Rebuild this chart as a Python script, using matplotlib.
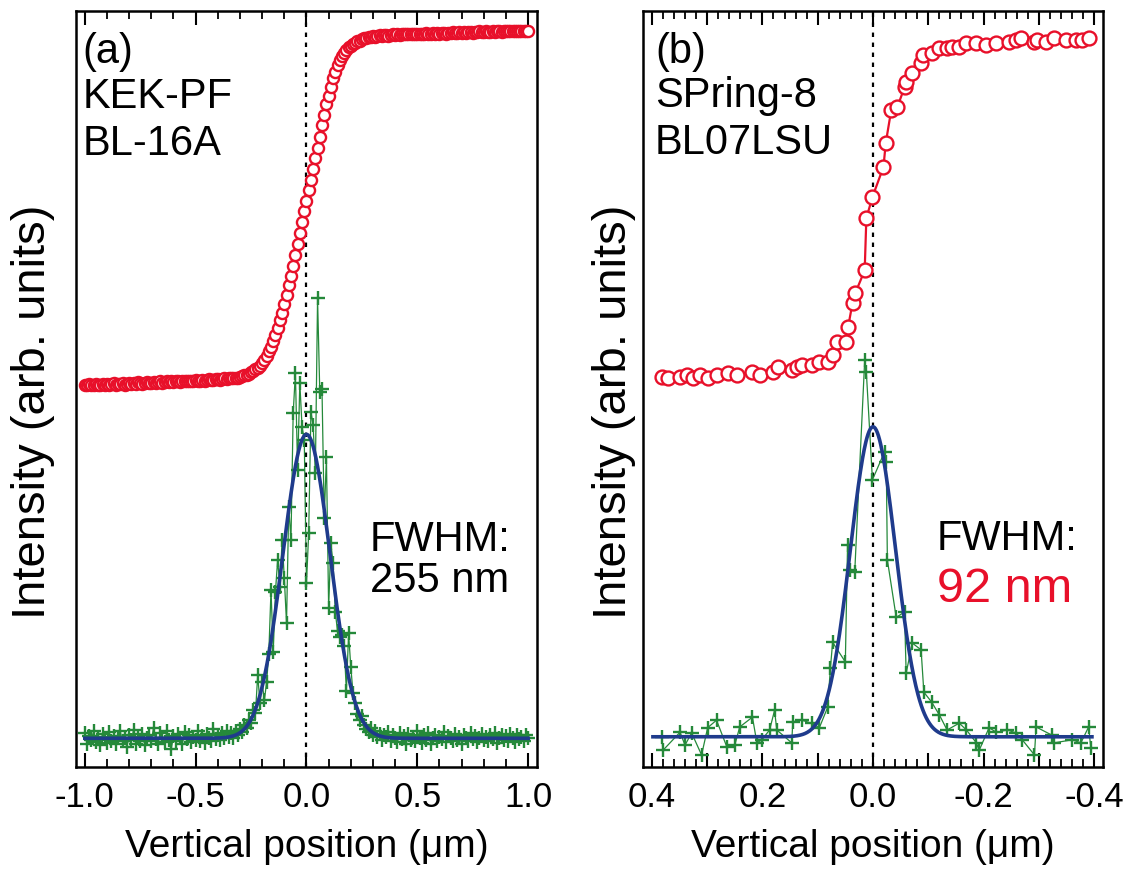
import numpy as np
import matplotlib.pyplot as plt
from matplotlib.ticker import MultipleLocator, FuncFormatter

plt.rcParams['font.family'] = ['Liberation Sans', 'DejaVu Sans']
plt.rcParams['axes.unicode_minus'] = False

RED = '#e8102a'
GREEN = '#25893a'
BLUE = '#1f3b8c'

# ---------- (a) KEK-PF BL-16A, sampled every 10 nm ----------
x_a = np.round(np.arange(-100, 101) / 100, 2)

edge_a = [
    # -1.00 .. -0.30
    0.506, 0.505, 0.507, 0.506, 0.506, 0.507, 0.505, 0.506, 0.507, 0.506,
    0.507, 0.506, 0.507, 0.508, 0.506, 0.507, 0.507, 0.508, 0.506, 0.507,
    0.508, 0.507, 0.508, 0.507, 0.509, 0.508, 0.507, 0.508, 0.509, 0.508,
    0.508, 0.509, 0.508, 0.509, 0.510, 0.508, 0.509, 0.510, 0.509, 0.510,
    0.509, 0.510, 0.511, 0.509, 0.510, 0.511, 0.510, 0.511, 0.510, 0.511,
    0.512, 0.511, 0.511, 0.512, 0.511, 0.512, 0.513, 0.512, 0.512, 0.513,
    0.513, 0.512, 0.513, 0.514, 0.513, 0.514, 0.514, 0.515, 0.514, 0.515,
    0.516,
    # -0.29 .. 0.29
    0.517, 0.518, 0.519, 0.520, 0.522, 0.524, 0.526, 0.528, 0.531, 0.535,
    0.539, 0.544, 0.550, 0.556, 0.564, 0.572, 0.581, 0.591, 0.601, 0.612,
    0.624, 0.637, 0.650, 0.663, 0.677, 0.692, 0.707, 0.721, 0.735, 0.749,
    0.763, 0.777, 0.791, 0.805, 0.819, 0.833, 0.849, 0.863, 0.877, 0.888,
    0.900, 0.911, 0.920, 0.928, 0.935, 0.940, 0.945, 0.949, 0.952, 0.954,
    0.956, 0.958, 0.960, 0.961, 0.963, 0.964, 0.965, 0.966, 0.966,
    # 0.30 .. 1.00
    0.967, 0.966, 0.967, 0.968, 0.967, 0.968, 0.968, 0.967, 0.968, 0.969,
    0.968, 0.969, 0.968, 0.969, 0.969, 0.970, 0.969, 0.969, 0.970, 0.969,
    0.970, 0.970, 0.969, 0.970, 0.971, 0.970, 0.970, 0.971, 0.970, 0.971,
    0.970, 0.971, 0.971, 0.970, 0.971, 0.971, 0.972, 0.971, 0.971, 0.972,
    0.971, 0.972, 0.971, 0.972, 0.972, 0.971, 0.972, 0.972, 0.973, 0.972,
    0.972, 0.973, 0.972, 0.972, 0.973, 0.972, 0.973, 0.973, 0.972, 0.973,
    0.973, 0.973, 0.974, 0.973, 0.973, 0.974, 0.973, 0.974, 0.974, 0.973,
    0.974,
]

profile_a = [
    # -1.00 .. -0.36
    0.045, 0.030, 0.041, 0.036, 0.048, 0.033, 0.040, 0.029, 0.044, 0.037,
    0.032, 0.046, 0.035, 0.041, 0.030, 0.039, 0.047, 0.034, 0.038, 0.026,
    0.043, 0.036, 0.049, 0.031, 0.040, 0.035, 0.044, 0.029, 0.038, 0.042,
    0.034, 0.052, 0.037, 0.031, 0.045, 0.039, 0.033, 0.047, 0.036, 0.024,
    0.041, 0.035, 0.044, 0.038, 0.030, 0.046, 0.037, 0.042, 0.033, 0.040,
    0.036, 0.048, 0.035, 0.041, 0.032, 0.044, 0.039, 0.034, 0.050, 0.037,
    0.042, 0.036, 0.045, 0.039, 0.047,
    # -0.35 .. 0.35
    0.040, 0.045, 0.038, 0.048, 0.042, 0.050, 0.046, 0.055, 0.052, 0.062,
    0.058, 0.075, 0.072, 0.122, 0.085, 0.112, 0.088, 0.112, 0.150, 0.234,
    0.152, 0.232, 0.274, 0.238, 0.300, 0.250, 0.190, 0.344, 0.300, 0.468,
    0.521, 0.393, 0.508, 0.450, 0.433, 0.243, 0.310, 0.470, 0.452, 0.389,
    0.620, 0.496, 0.500, 0.330, 0.410, 0.210, 0.296, 0.270, 0.205, 0.180,
    0.172, 0.175, 0.160, 0.100, 0.177, 0.132, 0.098, 0.085, 0.070, 0.062,
    0.068, 0.055, 0.050, 0.046, 0.052, 0.042, 0.047, 0.040, 0.044, 0.036,
    0.043,
    # 0.36 .. 1.00
    0.040, 0.046, 0.035, 0.043, 0.038, 0.033, 0.045, 0.037, 0.041, 0.030,
    0.044, 0.036, 0.040, 0.034, 0.047, 0.038, 0.032, 0.042, 0.036, 0.045,
    0.031, 0.039, 0.043, 0.035, 0.040, 0.037, 0.046, 0.033, 0.041, 0.038,
    0.034, 0.044, 0.036, 0.040, 0.031, 0.043, 0.038, 0.035, 0.045, 0.037,
    0.041, 0.033, 0.039, 0.044, 0.036, 0.040, 0.034, 0.042, 0.037, 0.045,
    0.032, 0.039, 0.043, 0.036, 0.041, 0.035, 0.044, 0.038, 0.033, 0.042,
    0.037, 0.040, 0.035, 0.043, 0.039,
]

# gaussian fit (a): centre, fwhm (um), peak height, baseline
fit_a = dict(x0=0.0, fwhm=0.25, peak=0.440, base=0.038)

# ---------- (b) SPring-8 BL07LSU ----------
edge_b_x = [0.382, 0.371, 0.349, 0.337, 0.326, 0.313, 0.299, 0.283, 0.263, 0.246,
            0.218, 0.205, 0.181, 0.172, 0.147, 0.138, 0.129, 0.111, 0.097, 0.082,
            0.073, 0.065, 0.048, 0.045, 0.037, 0.032, 0.015, 0.012, 0.001, -0.019,
            -0.023, -0.033, -0.044, -0.057, -0.060, -0.071, -0.087, -0.091, -0.106, -0.120,
            -0.133, -0.143, -0.156, -0.169, -0.187, -0.205, -0.223, -0.246, -0.259, -0.268,
            -0.292, -0.297, -0.313, -0.328, -0.349, -0.367, -0.378, -0.390]
edge_b_y = [0.516, 0.515, 0.516, 0.519, 0.515, 0.519, 0.515, 0.519, 0.521, 0.519,
            0.523, 0.519, 0.523, 0.529, 0.525, 0.529, 0.532, 0.532, 0.536, 0.536,
            0.545, 0.562, 0.562, 0.582, 0.614, 0.627, 0.657, 0.726, 0.754, 0.794,
            0.825, 0.869, 0.873, 0.899, 0.906, 0.918, 0.931, 0.942, 0.944, 0.951,
            0.951, 0.952, 0.952, 0.958, 0.958, 0.955, 0.958, 0.959, 0.962, 0.964,
            0.959, 0.962, 0.959, 0.964, 0.962, 0.962, 0.962, 0.964]

profile_b_x = [0.382, 0.380, 0.349, 0.340, 0.328, 0.310, 0.299, 0.283, 0.264, 0.250,
               0.241, 0.218, 0.210, 0.201, 0.187, 0.178, 0.174, 0.147, 0.145, 0.129,
               0.111, 0.097, 0.082, 0.077, 0.073, 0.050, 0.046, 0.042, 0.033, 0.015,
               0.012, 0.001, -0.021, -0.024, -0.026, -0.042, -0.057, -0.060, -0.071, -0.087,
               -0.092, -0.106, -0.120, -0.134, -0.156, -0.169, -0.187, -0.192, -0.210, -0.223,
               -0.243, -0.259, -0.270, -0.292, -0.295, -0.324, -0.328, -0.360, -0.376, -0.390,
               -0.394]
profile_b_y = [0.040, 0.022, 0.046, 0.029, 0.045, 0.016, 0.052, 0.062, 0.026, 0.029,
               0.053, 0.066, 0.032, 0.036, 0.049, 0.075, 0.049, 0.032, 0.060, 0.062,
               0.058, 0.052, 0.079, 0.131, 0.165, 0.139, 0.294, 0.261, 0.258, 0.538,
               0.522, 0.380, 0.417, 0.403, 0.274, 0.198, 0.205, 0.124, 0.164, 0.155,
               0.099, 0.086, 0.069, 0.049, 0.058, 0.049, 0.032, 0.022, 0.052, 0.046,
               0.049, 0.045, 0.036, 0.016, 0.053, 0.042, 0.032, 0.036, 0.032, 0.053,
               0.025]

fit_b = dict(x0=0.0, fwhm=0.096, peak=0.450, base=0.040)


def gauss_fit(x, p):
    sig = p['fwhm'] / (2 * np.sqrt(2 * np.log(2)))
    return p['base'] + (p['peak'] - p['base']) * np.exp(-(x - p['x0']) ** 2 / (2 * sig ** 2))


def style_axes(ax):
    for s in ax.spines.values():
        s.set_linewidth(1.8)
    ax.set_yticks([])
    ax.tick_params(axis='x', which='both', direction='in', top=True, bottom=True,
                   labelsize=25, pad=10, width=1.5)
    ax.tick_params(axis='x', which='major', length=10)
    ax.tick_params(axis='x', which='minor', length=6, width=1.3)
    ax.set_ylim(0, 1)
    ax.set_xlabel('Vertical position (\u03bcm)', fontsize=28, labelpad=11)
    ax.set_ylabel('Intensity (arb. units)', fontsize=34)


def fmt(v, pos):
    if abs(v) < 1e-9:
        v = 0.0
    return f'{v:.1f}'


def fmt_b(v, pos):
    if int(round(v * 10)) % 2:
        return ''
    return fmt(v, pos)


fig = plt.figure(figsize=(11.37, 8.77), dpi=100)
ax_a = fig.add_axes([0.0668, 0.1254, 0.4055, 0.862])
ax_b = fig.add_axes([0.5655, 0.1254, 0.4046, 0.862])

# panel a
xf_a = np.linspace(-1.0, 1.0, 801)
ax_a.axvline(0, color='black', ls=(0, (2, 2.5)), lw=1.6, zorder=1)
ax_a.plot(x_a, edge_a, '-', color=RED, lw=1.2, marker='o', ms=8,
          mfc='white', mec=RED, mew=1.7, zorder=3)
ax_a.plot(x_a, profile_a, '-', color=GREEN, lw=0.9, marker='+', ms=10,
          mew=1.7, zorder=2)
ax_a.plot(xf_a, gauss_fit(xf_a, fit_a), '-', color=BLUE, lw=2.6, zorder=4)
ax_a.set_xlim(-1.04, 1.04)
ax_a.xaxis.set_major_locator(MultipleLocator(0.5))
ax_a.xaxis.set_minor_locator(MultipleLocator(0.1))
ax_a.xaxis.set_major_formatter(FuncFormatter(fmt))
style_axes(ax_a)
ax_a.yaxis.set_label_coords(-0.046, 0.47)

ax_a.text(0.015, 0.931, '(a)', transform=ax_a.transAxes, fontsize=30, va='baseline')
ax_a.text(0.015, 0.872, 'KEK-PF', transform=ax_a.transAxes, fontsize=30, va='baseline')
ax_a.text(0.015, 0.810, 'BL-16A', transform=ax_a.transAxes, fontsize=30, va='baseline')
ax_a.text(0.638, 0.286, 'FWHM:', transform=ax_a.transAxes, fontsize=30, va='baseline')
ax_a.text(0.638, 0.231, '255 nm', transform=ax_a.transAxes, fontsize=30, va='baseline')

# panel b
xf_b = np.linspace(0.398, -0.396, 801)
ax_b.axvline(0, color='black', ls=(0, (2, 2.5)), lw=1.6, zorder=1)
ax_b.plot(edge_b_x, edge_b_y, '-', color=RED, lw=1.6, marker='o', ms=10,
          mfc='white', mec=RED, mew=1.7, zorder=3)
ax_b.plot(profile_b_x, profile_b_y, '-', color=GREEN, lw=0.9, marker='+', ms=10,
          mew=1.7, zorder=2)
ax_b.plot(xf_b, gauss_fit(xf_b, fit_b), '-', color=BLUE, lw=2.6, zorder=4)
ax_b.set_xlim(0.416, -0.416)
ax_b.xaxis.set_major_locator(MultipleLocator(0.1))
ax_b.xaxis.set_minor_locator(MultipleLocator(0.02))
ax_b.xaxis.set_major_formatter(FuncFormatter(fmt_b))
style_axes(ax_b)
ax_b.yaxis.set_label_coords(-0.015, 0.47)

ax_b.text(0.026, 0.931, '(b)', transform=ax_b.transAxes, fontsize=30, va='baseline')
ax_b.text(0.026, 0.873, 'SPring-8', transform=ax_b.transAxes, fontsize=30, va='baseline')
ax_b.text(0.026, 0.811, 'BL07LSU', transform=ax_b.transAxes, fontsize=30, va='baseline')
ax_b.text(0.639, 0.287, 'FWHM:', transform=ax_b.transAxes, fontsize=30, va='baseline')
ax_b.text(0.639, 0.218, '92 nm', transform=ax_b.transAxes, fontsize=35, va='baseline',
          color=RED)

fig.savefig('out.png', dpi=100)
